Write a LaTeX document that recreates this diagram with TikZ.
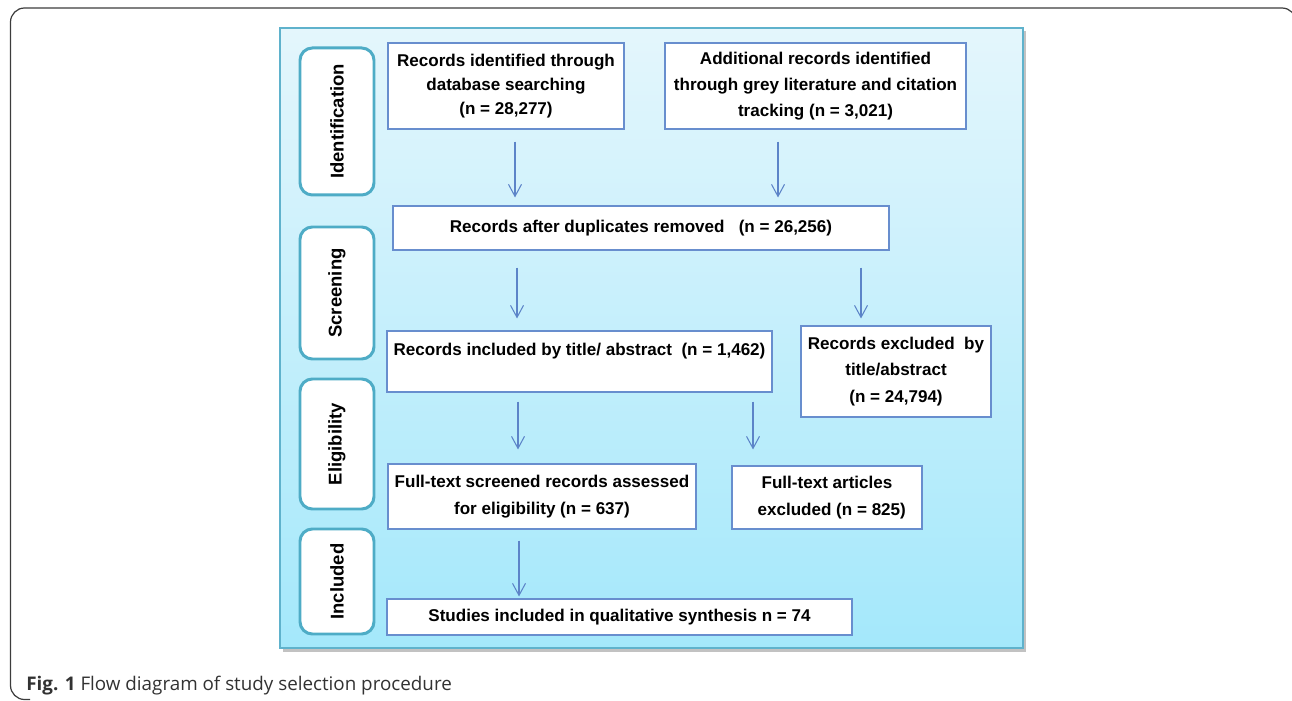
\documentclass[tikz,border=0pt]{standalone}
\usepackage{fontspec}
\setmainfont{Liberation Sans}
\newfontfamily\captionfont{Open Sans}
\usetikzlibrary{arrows.meta, calc}
\definecolor{panelTop}{RGB}{228, 246, 252}
\definecolor{panelBottom}{RGB}{164, 232, 251}
\definecolor{panelLine}{RGB}{95, 178, 204}
\definecolor{stageLine}{RGB}{78, 172, 198}
\definecolor{boxLine}{RGB}{104, 142, 206}
\definecolor{flowLine}{RGB}{92, 132, 200}
\definecolor{frameLine}{RGB}{60, 60, 60}
\definecolor{captionText}{RGB}{50, 50, 50}

\begin{document}
\begin{tikzpicture}[
  stage/.style={
    rectangle,
    rotate=90,
    draw=stageLine,
    line width=1.7pt,
    fill=white,
    rounded corners=7pt,
    minimum height=1.48cm,
    inner sep=0pt,
    font=\bfseries\fontsize{10.5}{12}\selectfont
  },
  box/.style={
    rectangle,
    draw=boxLine,
    line width=0.6pt,
    fill=white,
    inner sep=0pt,
    align=center,
    font=\bfseries\fontsize{9.7}{15}\selectfont
  },
  flow/.style={draw=flowLine, line width=0.6pt, -{Straight Barb[length=2.4mm, width=2.6mm]}},
  frame/.style={draw=frameLine, line width=0.7pt, rounded corners=8pt}
]
  \useasboundingbox (0,0) rectangle (25.84,14);

  % ── Cadre et panneau ────────────────────────────────────────────
  \draw[frame] (0.6,0.01) -- (0.21,0.01) -- (0.21,13.84) -- (25.92,13.84) -- (25.92,12.5);
  \fill[black!40, opacity=0.6] (5.66,0.96) rectangle (20.52,13.38);
  \shade[top color=panelTop, bottom color=panelBottom, draw=panelLine, line width=0.6pt]
    (5.6,1.04) rectangle (20.46,13.44);

  % ── Étapes ──────────────────────────────────────────────────────
  \node[stage, minimum width=2.94cm] (idStage)   at (6.74,11.57) {Identification};
  \node[stage, minimum width=2.64cm] (scrStage)  at (6.74, 8.14) {Screening};
  \node[stage, minimum width=2.60cm] (eliStage)  at (6.74, 5.12) {Eligibility};
  \node[stage, minimum width=2.10cm] (incStage)  at (6.74, 2.37) {Included};

  % ── Boîtes ──────────────────────────────────────────────────────
  \node[box, minimum width=4.72cm, minimum height=1.72cm,
        font=\bfseries\fontsize{9.7}{13.7}\selectfont] (srcDb) at (10.12,12.28)
        {Records identified through\\database searching\\(n = 28,277)};
  \node[box, minimum width=6.02cm, minimum height=1.72cm] (srcGrey) at (16.31,12.28)
        {Additional records identified\\through grey literature and citation\\tracking (n = 3,021)};
  \node[box, minimum width=9.92cm, minimum height=0.88cm] (dedup) at (12.82,9.44)
        {Records after duplicates removed\ \ \ (n = 26,256)};
  \node[box, minimum width=7.70cm, minimum height=1.22cm,
        font=\bfseries\fontsize{9.7}{13.7}\selectfont] (incTitle) at (11.59,6.77)
        {Records included by title/ abstract\ \ (n = 1,462)\\ \mbox{}};
  \node[box, minimum width=3.80cm, minimum height=1.82cm] (excTitle) at (17.92,6.57)
        {Records excluded\ \ by\\title/abstract\\(n = 24,794)};
  \node[box, minimum width=6.16cm, minimum height=1.30cm] (fullText) at (10.84,4.07)
        {Full-text screened records assessed\\for eligibility (n = 637)};
  \node[box, minimum width=3.80cm, minimum height=1.26cm] (excFull) at (16.54,4.05)
        {Full-text articles\\\ \ excluded (n = 825)};
  \node[box, minimum width=9.30cm, minimum height=0.72cm] (synth) at (12.39,1.66)
        {Studies included in qualitative synthesis n = 74};

  % ── Flèches ─────────────────────────────────────────────────────
  \draw[flow, shorten <=2.4mm, shorten >=1.6mm] ([xshift=1.8mm]srcDb.south)
    -- ([xshift=1.8mm]srcDb.south |- dedup.north);
  \draw[flow, shorten <=2.4mm, shorten >=1.6mm] ([xshift=-7.5mm]srcGrey.south)
    -- ([xshift=-7.5mm]srcGrey.south |- dedup.north);
  \draw[flow, shorten <=3.4mm, shorten >=2.4mm] ([xshift=-24.8mm]dedup.south)
    -- ([xshift=-24.8mm]dedup.south |- incTitle.north);
  \draw[flow, shorten <=3.4mm, shorten >=1.4mm] ([xshift=44mm]dedup.south)
    -- ([xshift=44mm]dedup.south |- excTitle.north);
  \draw[flow, shorten <=1.8mm, shorten >=2.8mm] ([xshift=-12.3mm]incTitle.south)
    -- ([xshift=-12.3mm]incTitle.south |- fullText.north);
  \draw[flow, shorten <=1.8mm, shorten >=3.2mm] ([xshift=34.7mm]incTitle.south)
    -- ([xshift=34.7mm]incTitle.south |- excFull.north);
  \draw[flow, shorten <=2.2mm, shorten >=0.4mm] ([xshift=-4.6mm]fullText.south)
    -- ([xshift=-4.6mm]fullText.south |- synth.north);

  % ── Légende ─────────────────────────────────────────────────────
  \node[anchor=base west, inner sep=0pt, text=captionText,
        font=\captionfont\fontsize{10.7}{12}\selectfont] (caption) at (0.52,0.2)
        {\textbf{Fig. 1} Flow diagram of study selection procedure};

\end{tikzpicture}
\end{document}
